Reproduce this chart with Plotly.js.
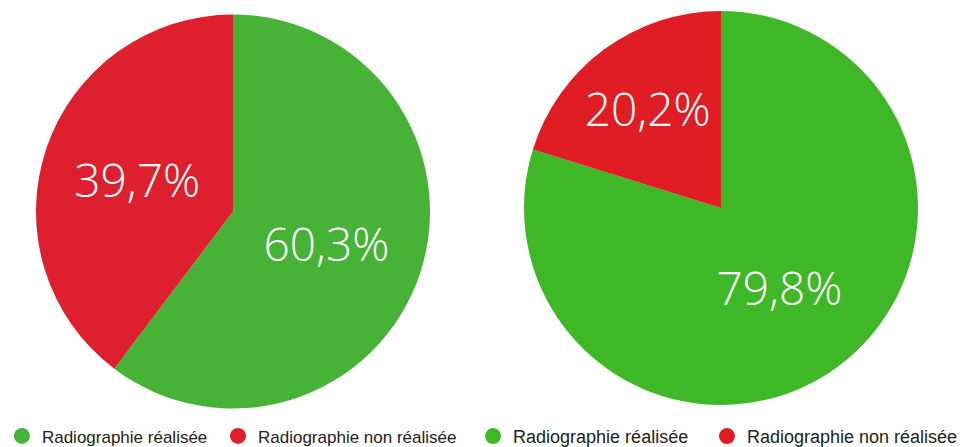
<!DOCTYPE html>
<html>
<head>
<meta charset="utf-8">
<script src="https://cdn.plot.ly/plotly-3.0.1.min.js"></script>
<style>html,body{margin:0;padding:0;background:#fff;}#chart{width:965px;height:447px;}</style>
</head>
<body>
<div id="chart"></div>
<script>
const categories = ["Radiographie réalisée", "Radiographie non réalisée"];
const leftValues = [60.3, 39.7];
const rightValues = [79.8, 20.2];
const leftColors = ["#47B336", "#DD1F2E"];
const rightColors = ["#3FB828", "#E01D25"];

const pieCommon = {
  type: "pie",
  labels: categories,
  sort: false,
  direction: "clockwise",
  rotation: 0,
  texttemplate: "%{value:.1f}%",
  textposition: "inside",
  insidetextorientation: "horizontal",
  textfont: {family: "Open Sans, sans-serif", size: 46, color: "#ffffff", weight: 300},
  showlegend: false,
  hoverinfo: "label+percent"
};

const traces = [
  Object.assign({}, pieCommon, {
    values: leftValues,
    marker: {colors: leftColors, line: {width: 0}},
    domain: {x: [0.0373, 0.4456], y: [0.0861, 0.9676]}
  }),
  Object.assign({}, pieCommon, {
    values: rightValues,
    marker: {colors: rightColors, line: {width: 0}},
    domain: {x: [0.5430, 0.9513], y: [0.0940, 0.9754]}
  })
];

// legend entries (circle symbols), one legend per item
const legendIds = [["legend", "legend2"], ["legend3", "legend4"]];
categories.forEach((c, i) => {
  traces.push({type: "scatter", mode: "markers", x: [null], y: [null], name: c,
    marker: {symbol: "circle", size: 18, color: leftColors[i]}, legend: legendIds[0][i], hoverinfo: "skip"});
});
categories.forEach((c, i) => {
  traces.push({type: "scatter", mode: "markers", x: [null], y: [null], name: c,
    marker: {symbol: "circle", size: 19, color: rightColors[i]}, legend: legendIds[1][i], hoverinfo: "skip"});
});

function legendAt(x, size) {
  return {orientation: "h", x: x, xanchor: "left", y: 0.0237, yanchor: "middle",
    font: {family: "Liberation Sans, Arial, sans-serif", size: size, color: "#222222"},
    itemclick: false, itemdoubleclick: false, bgcolor: "rgba(0,0,0,0)"};
}

const layout = {
  width: 965, height: 447,
  margin: {l: 0, r: 0, t: 0, b: 0, autoexpand: false},
  paper_bgcolor: "#ffffff", plot_bgcolor: "#ffffff",
  separators: ", ",
  xaxis: {visible: false}, yaxis: {visible: false},
  legend: legendAt(0.002, 17),
  legend2: legendAt(0.2259, 17),
  legend3: legendAt(0.4902, 18),
  legend4: legendAt(0.7326, 18)
};

Plotly.newPlot("chart", traces, layout, {displayModeBar: false, staticPlot: true});
</script>
</body>
</html>
